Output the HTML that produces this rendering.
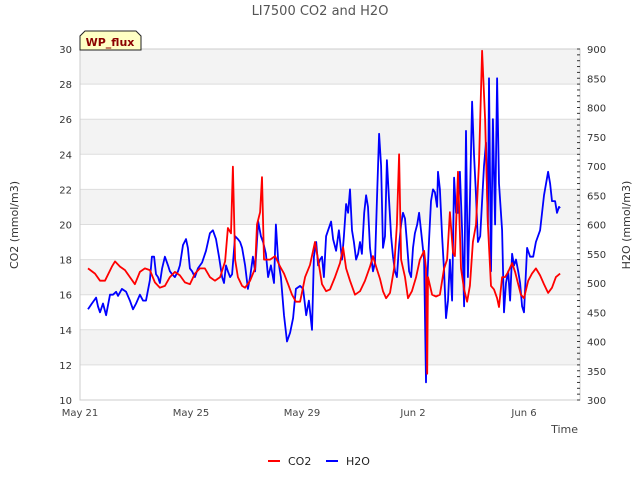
<!DOCTYPE html>
<html><head><meta charset="utf-8"><style>
body{margin:0;background:#fff;}
svg{display:block;font-family:"DejaVu Sans","Liberation Sans",sans-serif;}
</style></head><body>
<svg id="chart" width="640" height="480" viewBox="0 0 640 480">
<text x="320" y="15" text-anchor="middle" font-size="13" fill="#555">LI7500 CO2 and H2O</text>
<g id="bands"></g>
<g id="grid"></g>
<rect x="80" y="49" width="500" height="351" fill="none" stroke="#ccc"/>
<g id="yl"></g>
<g id="yr"></g>
<g id="xa"></g>
<g id="series"></g>
<text x="18" y="225" transform="rotate(-90 18 225)" text-anchor="middle" font-size="11" fill="#333">CO2 (mmol/m3)</text>
<text x="630" y="225" transform="rotate(-90 630 225)" text-anchor="middle" font-size="11" fill="#333">H2O (mmol/m3)</text>
<text x="578" y="433" text-anchor="end" font-size="11" fill="#444">Time</text>
<g>
<line x1="268" y1="461" x2="280" y2="461" stroke="#f00" stroke-width="2"/>
<text x="288" y="465" font-size="11" fill="#222">CO2</text>
<line x1="326" y1="461" x2="338" y2="461" stroke="#00f" stroke-width="2"/>
<text x="346" y="465" font-size="11" fill="#222">H2O</text>
</g>
<g>
<path d="M80,50 L80,36 L85,31 L136,31 L141,36 L141,50 Z" fill="#ffffc4" stroke="#222" stroke-width="1"/>
<text x="110" y="46" text-anchor="middle" font-size="11" font-weight="bold" fill="#8b0000">WP_flux</text>
</g>
</svg>
<script>
const xTickLabels=["May 21","May 25","May 29","Jun 2","Jun 6"];
const xTickDays=[0,4,8,12,16];
const leftTicks=[10,12,14,16,18,20,22,24,26,28,30];
const rightTicks=[300,350,400,450,500,550,600,650,700,750,800,850,900];
const co2Days=[0.29,0.54,0.72,0.90,1.15,1.26,1.44,1.62,1.80,1.98,2.16,2.34,2.52,2.70,2.88,3.06,3.24,3.42,3.60,3.78,3.96,4.14,4.32,4.50,4.68,4.86,5.05,5.23,5.33,5.44,5.51,5.59,5.69,5.84,5.95,6.13,6.31,6.38,6.49,6.56,6.63,6.74,6.85,7.03,7.21,7.35,7.50,7.64,7.78,7.93,8.11,8.29,8.47,8.58,8.72,8.87,9.01,9.19,9.37,9.48,9.59,9.73,9.91,10.09,10.27,10.45,10.56,10.67,10.81,10.92,11.03,11.17,11.32,11.42,11.50,11.57,11.71,11.82,11.96,12.11,12.25,12.40,12.47,12.51,12.54,12.69,12.83,12.97,13.12,13.23,13.33,13.44,13.51,13.62,13.73,13.84,13.95,14.05,14.16,14.27,14.38,14.49,14.60,14.70,14.81,14.92,15.03,15.10,15.21,15.32,15.43,15.57,15.68,15.79,15.89,16.00,16.15,16.29,16.43,16.58,16.72,16.87,17.01,17.15,17.30];
const co2Values=[17.5,17.2,16.8,16.8,17.6,17.9,17.6,17.4,17.0,16.6,17.3,17.5,17.4,16.7,16.4,16.5,17.0,17.3,17.1,16.7,16.6,17.2,17.5,17.5,17.0,16.8,17.0,17.9,19.8,19.5,23.3,18.0,17.0,16.5,16.4,16.8,17.5,20.0,20.7,22.7,18.0,18.0,18.0,18.2,17.6,17.2,16.6,16.0,15.6,15.6,17.0,17.7,19.0,18.0,16.6,16.2,16.3,17.0,17.8,18.7,17.5,16.8,16.0,16.2,16.8,17.6,18.2,17.6,16.9,16.2,15.8,16.1,17.5,20.0,24.0,18.0,17.0,15.8,16.2,17.0,18.0,18.5,17.5,11.5,17.0,16.0,15.9,16.0,17.5,18.0,20.7,18.4,18.2,23.0,17.5,16.3,15.6,16.5,19.0,20.0,23.5,29.9,26.0,20.0,16.5,16.3,15.8,15.3,17.0,17.0,17.3,17.8,17.3,16.6,16.0,15.8,16.8,17.2,17.5,17.1,16.6,16.1,16.4,17.0,17.2];
const h2oDays=[0.29,0.43,0.58,0.65,0.72,0.83,0.94,1.08,1.19,1.30,1.37,1.51,1.66,1.80,1.91,2.02,2.16,2.27,2.38,2.52,2.59,2.67,2.74,2.81,2.88,2.96,3.06,3.17,3.24,3.32,3.42,3.53,3.60,3.71,3.82,3.89,3.96,4.04,4.14,4.25,4.40,4.54,4.68,4.79,4.90,5.01,5.12,5.19,5.26,5.33,5.41,5.48,5.59,5.69,5.77,5.84,5.95,6.05,6.13,6.23,6.31,6.42,6.52,6.60,6.70,6.78,6.88,6.99,7.06,7.14,7.24,7.35,7.46,7.57,7.68,7.78,7.93,8.04,8.15,8.25,8.36,8.43,8.51,8.58,8.65,8.72,8.79,8.87,8.94,9.05,9.12,9.23,9.33,9.44,9.51,9.59,9.66,9.73,9.80,9.87,9.95,10.02,10.09,10.16,10.24,10.31,10.38,10.45,10.56,10.63,10.70,10.78,10.85,10.92,10.99,11.06,11.14,11.21,11.28,11.35,11.42,11.50,11.57,11.64,11.71,11.78,11.86,11.93,12.00,12.07,12.15,12.22,12.29,12.40,12.47,12.51,12.58,12.65,12.72,12.79,12.87,12.90,12.97,13.05,13.12,13.19,13.26,13.33,13.41,13.48,13.55,13.62,13.69,13.77,13.84,13.91,13.98,14.05,14.13,14.20,14.27,14.34,14.42,14.49,14.56,14.63,14.70,14.74,14.81,14.88,14.96,15.03,15.10,15.21,15.28,15.35,15.43,15.50,15.57,15.64,15.71,15.79,15.86,15.93,16.00,16.11,16.22,16.33,16.43,16.58,16.72,16.87,16.94,17.01,17.12,17.19,17.26,17.30];
const h2oValues=[455,465,475,460,450,465,445,480,480,485,478,490,485,470,455,465,480,470,470,505,545,545,515,510,500,525,545,530,520,515,510,520,530,565,575,560,525,520,510,525,535,555,585,590,575,545,510,500,530,520,510,515,580,575,570,560,530,490,510,545,520,605,580,570,550,510,530,500,600,540,510,445,400,415,440,490,495,490,445,470,420,545,570,530,540,545,510,580,590,605,575,555,590,540,580,635,620,660,590,570,540,550,570,550,620,650,630,560,520,535,640,755,700,560,580,710,640,580,545,520,510,565,600,620,610,570,520,510,560,585,600,620,590,540,330,500,575,640,660,655,630,690,660,580,520,440,470,540,470,680,620,620,690,590,460,760,510,640,810,720,650,570,580,640,700,740,600,850,520,780,600,850,670,590,450,500,520,470,550,530,540,520,500,460,450,560,545,545,570,590,650,690,670,640,640,620,630,628];

const NS="http://www.w3.org/2000/svg";
const X0=80,X1=580,Y0=49,Y1=400;
const xs=d=>X0+d*27.75;
const yl=v=>Y1-(v-10)/20*(Y1-Y0);
const yr=v=>Y1-(v-300)/600*(Y1-Y0);
function mk(tag,attrs,parent){const e=document.createElementNS(NS,tag);for(const k in attrs)e.setAttribute(k,attrs[k]);parent.appendChild(e);return e;}
const bands=document.getElementById('bands'),grid=document.getElementById('grid');
for(let i=0;i<leftTicks.length-1;i++){
  if(i%2===1){const r=mk('rect',{x:X0,y:yl(leftTicks[i+1]),width:X1-X0,height:yl(leftTicks[i])-yl(leftTicks[i+1]),fill:'#f3f3f3'},bands);
  
  }
}
const gl=document.getElementById('yl');
leftTicks.forEach(v=>{
  const l=mk('line',{x1:X0,x2:X1,y1:yl(v),y2:yl(v),stroke:'#ddd'},grid);
  
  
  const t=mk('text',{x:72,y:yl(v)+4,'text-anchor':'end','font-size':10,fill:'#333'},gl);
  
  
  t.textContent=v;
});
const gr=document.getElementById('yr');
for(let v=300;v<=900;v+=10){
  const m=mk('line',{x1:X1-3,x2:X1,y1:yr(v),y2:yr(v),stroke:'#333'},gr);
  
  
}
rightTicks.forEach(v=>{
  const t=mk('text',{x:587,y:yr(v)+4,'font-size':10,fill:'#333'},gr);
  
  
  t.textContent=v;
});
const gx=document.getElementById('xa');
xTickDays.forEach((d,i)=>{
  const t=mk('text',{x:xs(d),y:416,'text-anchor':'middle','font-size':10,fill:'#444'},gx);
  
  
  t.textContent=xTickLabels[i];
});
const gs=document.getElementById('series');
const co2Pts=co2Days.map((d,i)=>xs(d).toFixed(1)+','+yl(co2Values[i]).toFixed(1)).join(' ');
const h2oPts=h2oDays.map((d,i)=>xs(d).toFixed(1)+','+yr(h2oValues[i]).toFixed(1)).join(' ');
const ph=mk('polyline',{points:h2oPts,fill:'none',stroke:'#00f','stroke-width':1.8,'stroke-linejoin':'round'},gs);


const pc=mk('polyline',{points:co2Pts,fill:'none',stroke:'#f00','stroke-width':1.8,'stroke-linejoin':'round'},gs);


</script>
</body></html>
